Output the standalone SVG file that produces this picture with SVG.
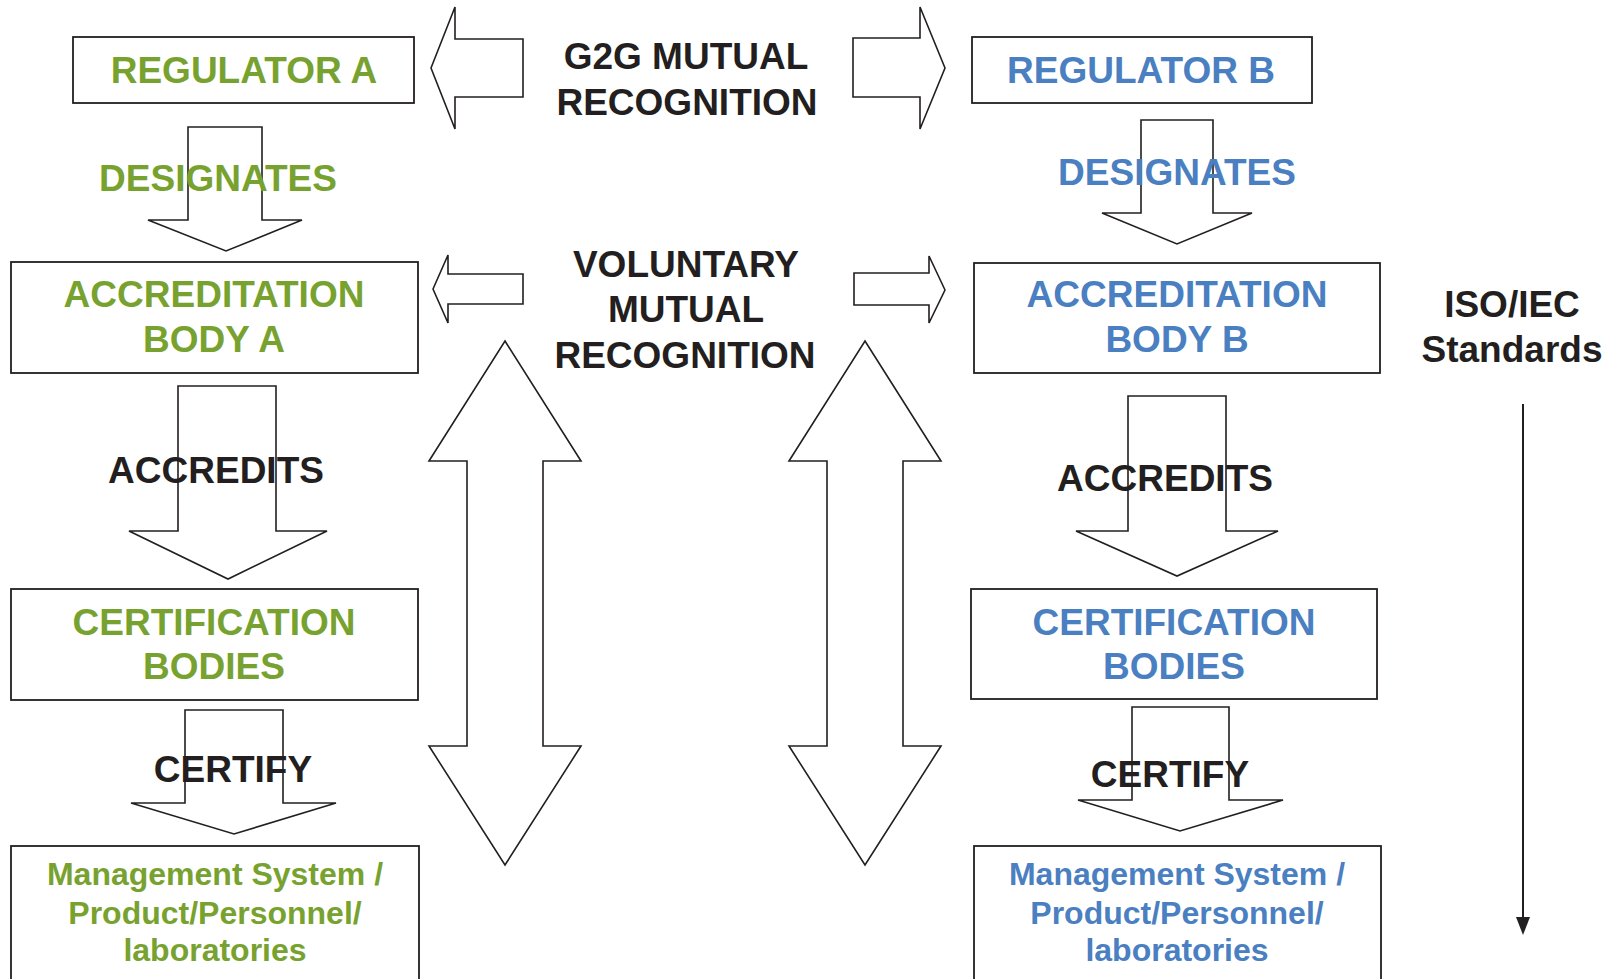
<svg xmlns="http://www.w3.org/2000/svg" width="1613" height="979" viewBox="0 0 1613 979">
<style>
.box{fill:#fff;stroke:#231f20;stroke-width:1.8}
.arr{fill:#fff;stroke:#231f20;stroke-width:1.6;stroke-linejoin:miter}
text{font-family:"Liberation Sans",Arial,sans-serif;font-weight:bold;text-anchor:middle}
.g{fill:#78a22f;font-size:37px}
.b{fill:#4a7fc1;font-size:37px}
.k{fill:#231f20;font-size:37px}
.gs{fill:#78a22f;font-size:32px}
.bs{fill:#4a7fc1;font-size:32px}
</style>
<rect width="1613" height="979" fill="#fff"/>

<g id="connectors">
<!-- G2G arrows -->
<path class="arr" d="M431,68 L455,7 L455,39 L523,39 L523,97 L455,97 L455,129 Z"/>
<path class="arr" d="M945,68 L920,7 L920,38 L853,38 L853,97 L920,97 L920,129 Z"/>
<!-- voluntary arrows -->
<path class="arr" d="M433,289 L448,255 L448,274 L523,274 L523,304 L448,304 L448,323 Z"/>
<path class="arr" d="M945,290 L929,256 L929,273 L854,273 L854,305 L929,305 L929,323 Z"/>
<!-- big double arrows -->
<path class="arr" d="M505,341 L581,461 L543,461 L543,746 L581,746 L505,865 L429,746 L467,746 L467,461 L429,461 Z"/>
<path class="arr" d="M865,341 L941,461 L903,461 L903,746 L941,746 L865,865 L789,746 L827,746 L827,461 L789,461 Z"/>
<!-- left column down arrows -->
<path class="arr" d="M188,127 L262,127 L262,220 L302,220 L226,251 L148,220 L188,220 Z"/>
<path class="arr" d="M178,386 L276,386 L276,531 L327,531 L228,579 L129,531 L178,531 Z"/>
<path class="arr" d="M185,710 L283,710 L283,803 L336,803 L234,834 L131,803 L185,803 Z"/>
<!-- right column down arrows -->
<path class="arr" d="M1141,120 L1213,120 L1213,213 L1252,213 L1177,244 L1102,213 L1141,213 Z"/>
<path class="arr" d="M1128,396 L1226,396 L1226,531 L1278,531 L1177,576 L1076,531 L1128,531 Z"/>
<path class="arr" d="M1132,707 L1229,707 L1229,800 L1283,800 L1180,831 L1078,800 L1132,800 Z"/>
<!-- standards line -->
<line x1="1523" y1="404" x2="1523" y2="920" stroke="#231f20" stroke-width="2"/>
<path d="M1516,917 L1530,917 L1523,935 Z" fill="#231f20"/>
</g>

<g id="regA"><rect class="box" x="73" y="37" width="341" height="66"/><text class="g" x="244" y="83">REGULATOR A</text></g>
<g id="regB"><rect class="box" x="972" y="37" width="340" height="66"/><text class="b" x="1141" y="83">REGULATOR B</text></g>

<g id="g2g"><text class="k" x="686" y="69">G2G MUTUAL</text><text class="k" x="687" y="115">RECOGNITION</text></g>
<g id="voluntary"><text class="k" x="686" y="277">VOLUNTARY</text><text class="k" x="686" y="322">MUTUAL</text><text class="k" x="685" y="368">RECOGNITION</text></g>

<g id="desA"><text class="g" x="218" y="191">DESIGNATES</text></g>
<g id="desB"><text class="b" x="1177" y="185">DESIGNATES</text></g>

<g id="abA"><rect class="box" x="11" y="262" width="407" height="111"/><text class="g" x="214" y="307">ACCREDITATION</text><text class="g" x="214" y="352">BODY A</text></g>
<g id="abB"><rect class="box" x="974" y="263" width="406" height="110"/><text class="b" x="1177" y="307">ACCREDITATION</text><text class="b" x="1177" y="352">BODY B</text></g>

<g id="iso"><text class="k" x="1512" y="317">ISO/IEC</text><text class="k" x="1512" y="362">Standards</text></g>

<g id="accA"><text class="k" x="216" y="483">ACCREDITS</text></g>
<g id="accB"><text class="k" x="1165" y="491">ACCREDITS</text></g>

<g id="cbA"><rect class="box" x="11" y="589" width="407" height="111"/><text class="g" x="214" y="635">CERTIFICATION</text><text class="g" x="214" y="679">BODIES</text></g>
<g id="cbB"><rect class="box" x="971" y="589" width="406" height="110"/><text class="b" x="1174" y="635">CERTIFICATION</text><text class="b" x="1174" y="679">BODIES</text></g>

<g id="certA"><text class="k" x="233" y="782">CERTIFY</text></g>
<g id="certB"><text class="k" x="1170" y="787">CERTIFY</text></g>

<g id="msA"><rect class="box" x="11" y="846" width="408" height="150"/><text class="gs" x="215" y="885">Management System /</text><text class="gs" x="215" y="924">Product/Personnel/</text><text class="gs" x="215" y="961">laboratories</text></g>
<g id="msB"><rect class="box" x="974" y="846" width="407" height="150"/><text class="bs" x="1177" y="885">Management System /</text><text class="bs" x="1177" y="924">Product/Personnel/</text><text class="bs" x="1177" y="961">laboratories</text></g>
</svg>
